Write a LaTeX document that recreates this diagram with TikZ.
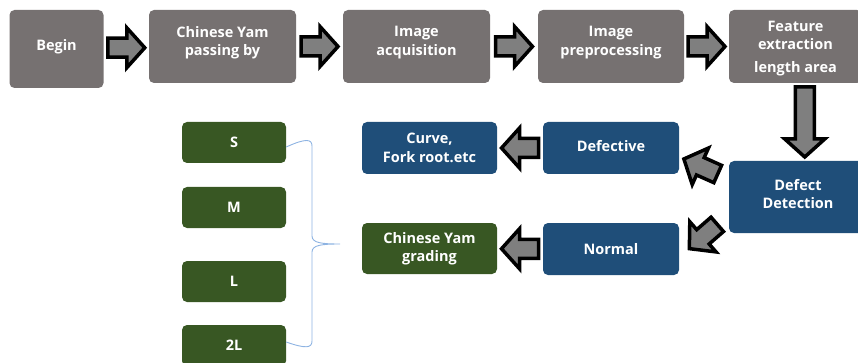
\documentclass[tikz,border=0pt]{standalone}
\usepackage{fontspec}
\setmainfont{Open Sans}
\usetikzlibrary{calc}

\definecolor{boxgray}{HTML}{767171}
\definecolor{boxblue}{HTML}{1F4E79}
\definecolor{boxgreen}{HTML}{385723}
\definecolor{arrowgray}{HTML}{7F7F7F}
\definecolor{bracecol}{HTML}{8DB3E2}

\tikzset{
  card/.style={rectangle, rounded corners=5pt, text=white, align=center,
    inner sep=0pt, font=\fontsize{14.5}{18.5}\selectfont\bfseries},
  graycard/.style={card, fill=boxgray},
  bluecard/.style={card, fill=boxblue},
  greencard/.style={card, fill=boxgreen},
  arrowline/.style={draw=black, line width=3.5pt, fill=arrowgray, line join=miter},
  bracket/.style={draw=bracecol, line width=0.9pt},
}

% block arrow: #1 centre, #2 direction angle, #3 length (shaft 19, head 40 wide)
\newcommand\blockarr[3]{%
  \begin{scope}[shift={#1}, rotate=#2]
    \pgfmathsetmacro\halflen{#3/2}
    \pgfmathsetmacro\headbase{#3/2-18}
    \path[arrowline] (-\halflen,-9.5) -- (\headbase,-9.5) -- (\headbase,-20)
      -- (\halflen,0) -- (\headbase,20) -- (\headbase,9.5) -- (-\halflen,9.5) -- cycle;
  \end{scope}}

\begin{document}
\begin{tikzpicture}[x=1pt, y=-1pt]
  \useasboundingbox (0,0) rectangle (858,363);
  \clip (0,0) rectangle (858,363);

  % top row: acquisition pipeline
  \node[graycard, minimum width=94pt,  minimum height=78pt, text depth=8pt]  (begin) at (56.5,49)   {Begin};
  \node[graycard, minimum width=147pt, minimum height=73pt, text depth=11pt] (yam)   at (222.5,46.5) {Chinese Yam\\passing by};
  \node[graycard, minimum width=147pt, minimum height=73pt, text depth=11pt] (acq)   at (416.5,46.5) {Image\\acquisition};
  \node[graycard, minimum width=146pt, minimum height=73pt, text depth=11pt] (pre)   at (611,46.5)   {Image\\preprocessing};
  \node[graycard, minimum width=133pt, minimum height=73pt, text depth=0pt] (feat)  at (795.5,46.5)
    {Feature\\extraction\\[4pt]length area};

  % detection stage
  \node[bluecard, minimum width=138pt, minimum height=72pt, text depth=6pt] (dd) at (798,197) {Defect\\Detection};
  \node[bluecard, minimum width=136pt, minimum height=52pt, text depth=4pt] (def)  at (611,148) {Defective};
  \node[bluecard, minimum width=136pt, minimum height=52pt] (norm) at (611,249)   {Normal};
  \node[bluecard, minimum width=135pt, minimum height=52pt] (curve) at (429.5,148) {Curve,\\Fork root.etc};
  \node[greencard, minimum width=135pt, minimum height=51pt] (grade) at (429.5,248.5) {Chinese Yam\\grading};

  % grade classes
  \node[greencard, minimum width=104pt, minimum height=41pt] (gs)  at (234,142.5) {S};
  \node[greencard, minimum width=104pt, minimum height=41pt] (gm)  at (234,207.5) {M};
  \node[greencard, minimum width=104pt, minimum height=41pt] (gl)  at (234,281.5) {L};
  \node[greencard, minimum width=104pt, minimum height=41pt] (g2l) at (234,345.5) {2L};

  % block arrows along the pipeline
  \blockarr{($(begin.east)!0.5!(yam.west)$)}{0}{37}
  \blockarr{($(yam.east)!0.5!(acq.west)$)}{0}{37}
  \blockarr{($(acq.east)!0.5!(pre.west)$)}{0}{37}
  \blockarr{($(pre.east)!0.5!(feat.west)$)}{0}{37}
  \blockarr{([xshift=8pt]$(feat.south)!0.5!(dd.north)$)}{-90}{70}
  \blockarr{($(dd.west)+(-28,-30.5)$)}{156}{37}
  \blockarr{($(dd.west)+(-25.5,39.5)$)}{221}{37}
  \blockarr{($(def.west)!0.5!(curve.east)$)}{180}{37}
  \blockarr{($(norm.west)!0.5!(grade.east)$)}{180}{37}

  % brace grouping the grade classes
  \coordinate (btip) at (340,244);
  \draw[bracket] ([yshift=-4.5pt]gs.east) .. controls (306,138) and (312,139) .. (312,146)
    -- (312,236) .. controls (312,243) and (322,244) .. (btip)
    .. controls (322,244) and (312,245) .. (312,252)
    -- (312,341) .. controls (312,348) and (306,349) .. ([yshift=3.5pt]g2l.east);
\end{tikzpicture}
\end{document}
